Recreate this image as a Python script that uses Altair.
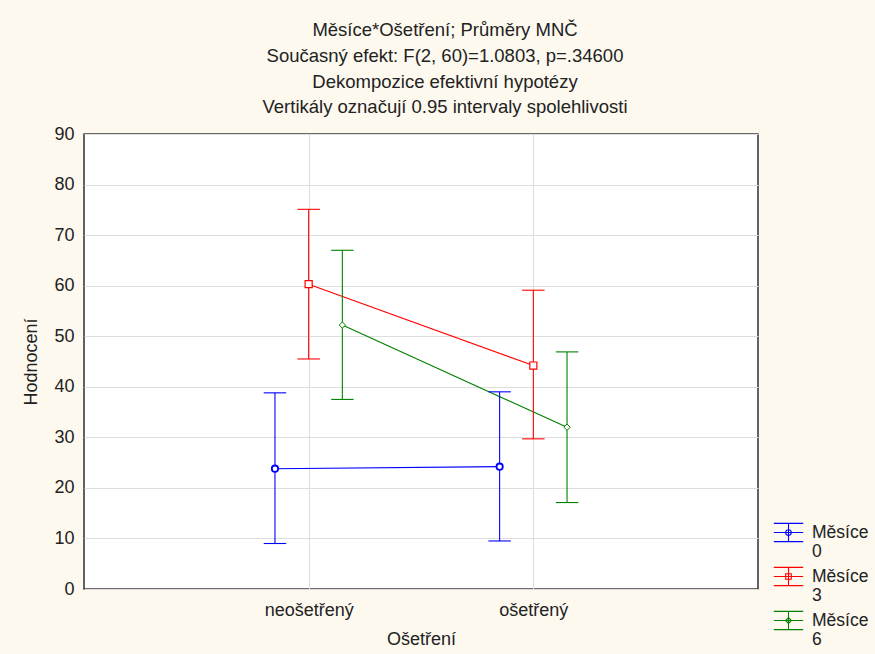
import json
import altair as alt
import pandas as pd

# Interaction means (Měsíce × Ošetření) with 0.95 confidence limits
groups = ["Měsíce 0", "Měsíce 3", "Měsíce 6"]
treatments = ["neošetřený", "ošetřený"]

means = {
    "Měsíce 0": [23.8, 24.2],
    "Měsíce 3": [60.3, 44.2],
    "Měsíce 6": [52.2, 32.0],
}
lower = {
    "Měsíce 0": [9.0, 9.5],
    "Měsíce 3": [45.5, 29.7],
    "Měsíce 6": [37.5, 17.1],
}
upper = {
    "Měsíce 0": [38.8, 39.0],
    "Měsíce 3": [75.1, 59.1],
    "Měsíce 6": [67.0, 46.9],
}

title_lines = [
    "Měsíce*Ošetření; Průměry MNČ",
    "Současný efekt: F(2, 60)=1.0803, p=.34600",
    "Dekompozice efektivní hypotézy",
    "Vertikály označují 0.95 intervaly spolehlivosti",
]

# styling
colors = ["#0000ff", "#ff0000", "#008000"]
dodge = {"Měsíce 0": -0.15, "Měsíce 3": 0.0, "Měsíce 6": 0.15}
markers = {
    "Měsíce 0": dict(shape="circle", size=40, strokeWidth=1.8),
    "Měsíce 3": dict(shape="square", size=50, strokeWidth=1.2),
    "Měsíce 6": dict(shape="diamond", size=40, strokeWidth=1.0),
}
FONT = "Liberation Sans"
TEXT = "#222222"
FS = 18

rows = []
for g in groups:
    for i, t in enumerate(treatments):
        rows.append(
            dict(group=g, treatment=t, idx=i + 1,
                 mean=means[g][i], lo=lower[g][i], hi=upper[g][i])
        )
df = pd.DataFrame(rows)

dodge_expr = "{" + ", ".join(f"{json.dumps(k)}: {v}" for k, v in dodge.items()) + "}"
base = alt.Chart(df).transform_calculate(
    x=f"datum.idx + {dodge_expr}[datum.group]",
    xl="datum.x - 0.05",
    xr="datum.x + 0.05",
)

# series colours for the data marks (domain taken from the data, sorted)
stroke = alt.Stroke("group:N", scale=alt.Scale(range=colors), legend=None)

x_scale = alt.Scale(domain=[0, 3], nice=False, zero=False)
y_scale = alt.Scale(domain=[0, 90], nice=False, zero=True)

x_enc = alt.X(
    "x:Q",
    scale=x_scale,
    axis=alt.Axis(
        values=[1, 2],
        labelExpr=f"{json.dumps(treatments)}[datum.value - 1]",
        title="Ošetření",
        grid=True,
        ticks=False,
        domain=False,
        labelPadding=12,
        titlePadding=11,
    ),
)
y_enc = alt.Y(
    "mean:Q",
    scale=y_scale,
    axis=alt.Axis(
        values=list(range(0, 91, 10)),
        title="Hodnocení",
        grid=True,
        ticks=False,
        domain=False,
        labelPadding=10,
        titlePadding=13,
    ),
)

lines = base.mark_line(strokeWidth=1.1).encode(
    x=x_enc, y=y_enc, stroke=stroke, order="idx:Q"
)

whiskers = base.mark_rule(strokeWidth=1.1).encode(
    x=alt.X("x:Q", scale=x_scale), y=alt.Y("lo:Q", scale=y_scale), y2="hi:Q", stroke=stroke
)
caps_lo = base.mark_rule(strokeWidth=1.1).encode(
    x=alt.X("xl:Q", scale=x_scale), x2="xr:Q", y=alt.Y("lo:Q", scale=y_scale), stroke=stroke
)
caps_hi = base.mark_rule(strokeWidth=1.1).encode(
    x=alt.X("xl:Q", scale=x_scale), x2="xr:Q", y=alt.Y("hi:Q", scale=y_scale), stroke=stroke
)

point_layers = []
for g in groups:
    m = markers[g]
    point_layers.append(
        base.transform_filter(alt.datum.group == g)
        .mark_point(filled=False, fill="white", opacity=1, **m)
        .encode(x=alt.X("x:Q", scale=x_scale), y=alt.Y("mean:Q", scale=y_scale), stroke=stroke)
    )

# legend icons: error bar with the series marker in its centre
bar_icon = "M-1,-0.62H1M-1,0.62H1M0,-0.62V0.62M-1,0H1"
icons = [
    bar_icon + "M0.19,0A0.19,0.19,0,1,1,-0.19,0A0.19,0.19,0,1,1,0.19,0Z",
    bar_icon + "M-0.19,-0.19H0.19V0.19H-0.19Z",
    bar_icon + "M0,-0.2L0.2,0L0,0.2L-0.2,0Z",
]
legend = alt.Legend(
    title=None,
    orient="none",
    legendX=689,
    legendY=383,
    symbolSize=864,
    symbolStrokeWidth=1.1,
    symbolFillColor="transparent",
    labelExpr="split(datum.label, ' ')",
    labelFont=FONT,
    labelFontSize=17.5,
    labelColor=TEXT,
    labelBaseline="middle",
    labelOffset=8,
    rowPadding=0,
    padding=0,
)
legend_layer = (
    base.transform_filter("false")
    .mark_point(filled=False, opacity=1)
    .encode(
        x=alt.X("x:Q", scale=x_scale),
        y=alt.Y("mean:Q", scale=y_scale),
        color=alt.Color("group:N", scale=alt.Scale(domain=groups, range=colors), legend=legend),
        shape=alt.Shape("group:N", scale=alt.Scale(domain=groups, range=icons), legend=legend),
    )
)

chart = (
    alt.layer(lines, whiskers, caps_lo, caps_hi, *point_layers, legend_layer)
    .properties(
        width=674,
        height=455,
        autosize=alt.AutoSizeParams(type="none"),
        padding={"left": 84, "top": 134, "right": 117, "bottom": 65},
        background="#fdf9ef",
        title=alt.TitleParams(
            text=title_lines,
            font=FONT,
            fontSize=18.5,
            fontWeight="normal",
            color=TEXT,
            lineHeight=25.7,
            anchor="middle",
            frame="group",
            dx=24,
            offset=8,
        ),
    )
    .configure_view(fill="white", stroke="#3c3c3c", strokeWidth=1.6)
    .configure_axis(
        labelFont=FONT,
        labelFontSize=FS,
        labelColor=TEXT,
        titleFont=FONT,
        titleFontSize=FS,
        titleFontWeight="normal",
        titleColor=TEXT,
        gridColor="#dddddd",
        gridWidth=1,
    )
)

chart.save("out.html", embed_options={"renderer": "svg", "actions": False})
